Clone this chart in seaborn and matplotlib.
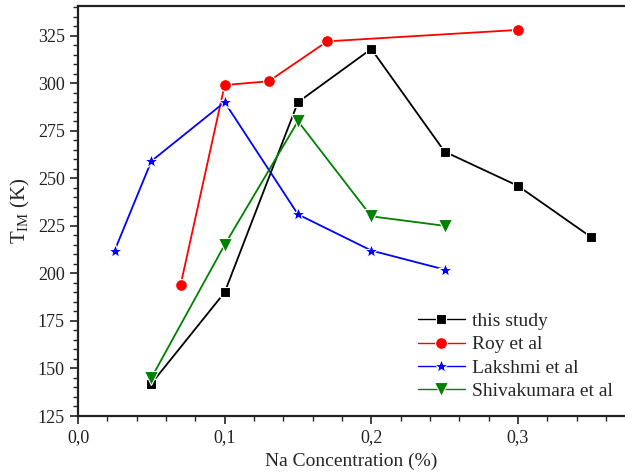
import matplotlib
matplotlib.use("Agg")
import matplotlib.pyplot as plt
from matplotlib.ticker import MultipleLocator, FuncFormatter
import seaborn as sns
import pandas as pd

this_x = [0.05, 0.10, 0.15, 0.20, 0.25, 0.30, 0.35]
this_y = [142, 190, 290, 318, 264, 246, 219]
roy_x = [0.07, 0.10, 0.13, 0.17, 0.30]
roy_y = [194, 299, 301, 322, 328]
lak_x = [0.025, 0.05, 0.10, 0.15, 0.20, 0.25]
lak_y = [212, 259, 290, 231, 212, 202]
shi_x = [0.05, 0.10, 0.15, 0.20, 0.25]
shi_y = [145, 215, 280, 230, 225]

series = [
    ("this study", this_x, this_y, "black", "s", 7),
    ("Roy et al", roy_x, roy_y, "red", "o", 8.5),
    ("Lakshmi et al", lak_x, lak_y, "blue", "*", 10.5),
    ("Shivakumara et al", shi_x, shi_y, "green", "v", 9.5),
]

sns.set_theme(style="ticks")
plt.rcParams['font.family'] = ['Liberation Serif', 'DejaVu Serif']
plt.rcParams['mathtext.fontset'] = 'custom'
plt.rcParams['mathtext.rm'] = 'Liberation Serif'
plt.rcParams['mathtext.it'] = 'Liberation Serif:italic'

fig = plt.figure(figsize=(6.25, 4.73), dpi=100)
ax = fig.add_axes([0.1248, 0.1205, 0.8752, 0.8665])

for name, xs, ys, c, m, ms in series:
    df = pd.DataFrame({"x": xs, "y": ys})
    sns.lineplot(data=df, x="x", y="y", ax=ax, color=c, marker=m, markersize=ms,
                 markeredgecolor="white", markeredgewidth=0.8, linewidth=1.3,
                 label=name, sort=False)

ax.set_xlim(0, 0.373)
ax.set_ylim(125, 340.5)
ax.xaxis.set_major_locator(MultipleLocator(0.1))
ax.xaxis.set_minor_locator(MultipleLocator(0.02))
ax.yaxis.set_major_locator(MultipleLocator(25))
ax.yaxis.set_minor_locator(MultipleLocator(5))
ax.xaxis.set_major_formatter(FuncFormatter(lambda v, p: f"{v:.1f}".replace(".", ",")))
ax.tick_params(which="major", direction="out", length=6, width=1.2, labelsize=13, colors="#222222")
ax.tick_params(which="minor", direction="out", length=3.5, width=1.0)
for s in ["left", "bottom", "top"]:
    ax.spines[s].set_linewidth(1.6)
    ax.spines[s].set_color("#222222")
ax.spines["right"].set_visible(False)

ax.set_xlabel("Na Concentration (%)", fontsize=14, labelpad=5)
ax.set_ylabel(r"T$_{\mathrm{IM}}$ (K)", fontsize=15, labelpad=4)

leg = ax.legend(loc="lower right", bbox_to_anchor=(1.0, 0.01), frameon=False,
                fontsize=14, handlelength=2.4, handletextpad=0.4,
                labelspacing=0.3, borderaxespad=0.2)
for h in leg.legend_handles:
    h.set_linewidth(1.0)

fig.savefig("out.png", dpi=100)
